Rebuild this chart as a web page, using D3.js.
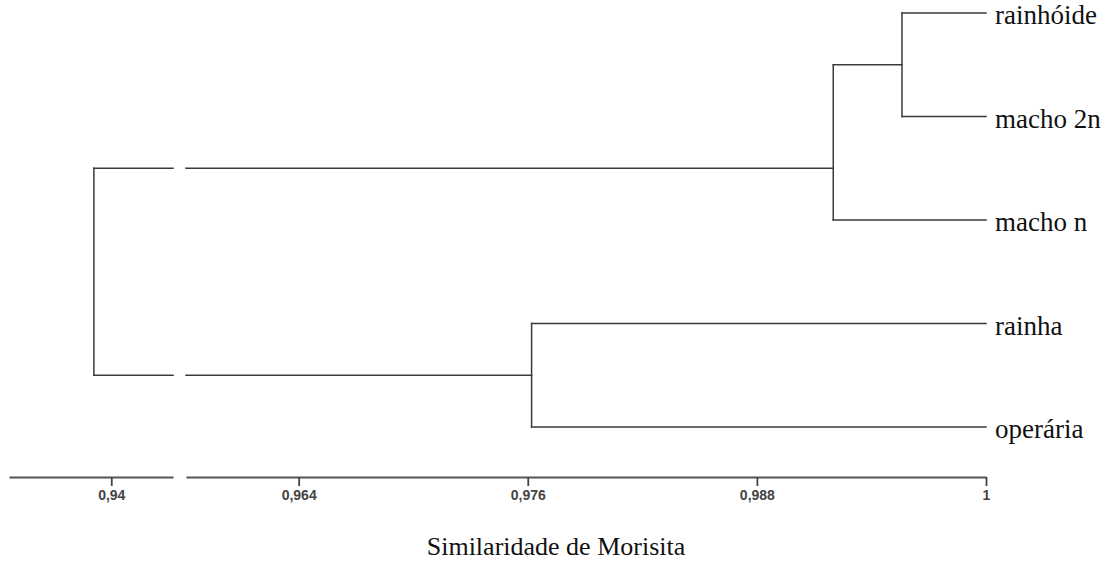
<!DOCTYPE html>
<html>
<head>
<meta charset="utf-8">
<script src="https://cdn.jsdelivr.net/npm/d3@7"></script>
<style>
  body { margin: 0; background: #fff; }
  svg { display: block; }
  .serif { font-family: 'Liberation Serif', 'Times New Roman', Times, 'DejaVu Serif', serif; }
  .sans { font-family: 'Liberation Sans', Arial, Helvetica, sans-serif; }
</style>
</head>
<body>
<script>
// leaves, top to bottom
let leaves = ['rainhóide', 'macho 2n', 'macho n', 'rainha', 'operária'];

// joins: [left, right] and the similarity at which they join
let joinNames = ['A', 'B', 'C', 'root'];
let joinPairs = [['rainhóide', 'macho 2n'], ['A', 'macho n'], ['rainha', 'operária'], ['B', 'C']];
let joinSimilarity = [0.9956, 0.9920, 0.9762, 0.9391];

let leftTicks = [0.94];
let rightTicks = [0.964, 0.976, 0.988, 1];

let width = 1120;
let height = 563;

// broken axis: two linear pieces
let xLeft = d3.scaleLinear().domain([0.9347, 0.9432]).range([9, 173]);
let xRight = d3.scaleLinear().domain([0.9581, 1]).range([186, 986]);
let x = v => v < 0.95 ? xLeft(v) : xRight(v);

let y = d3.scaleLinear().domain([0, leaves.length - 1]).range([13, 427]);
let axisY = 477;

let fmt = d3.formatLocale({decimal: ',', thousands: '.', grouping: [3], currency: ['', '']}).format('.3~f');

// build the tree
let byName = {};
leaves.forEach((name, i) => byName[name] = {name: name, sim: 1, row: i});
joinNames.forEach((name, i) => {
    byName[name] = {name: name, sim: joinSimilarity[i], children: joinPairs[i].map(c => byName[c])};
});
let root = d3.hierarchy(byName.root);

// node position: between the last leaf of the first child and the first leaf of the second
root.eachAfter(d => {
    if (!d.children) { d.row = d.data.row; return; }
    let a = d.children[0].leaves(), b = d.children[1].leaves();
    d.row = (a[a.length - 1].data.row + b[0].data.row) / 2;
});

let svg = d3.select('body')
    .append('svg')
    .attr('width', width)
    .attr('height', height);

let segs = [];
root.each(d => {
    if (!d.children) return;
    let px = x(d.data.sim);
    segs.push([px, y(d.children[0].row), px, y(d.children[1].row)]);
    d.children.forEach(c => {
        let cx = x(c.data.sim), cy = y(c.row);
        if (d.data.sim < 0.95 && c.data.sim >= 0.95) {
            segs.push([px, cy, xLeft.range()[1], cy]);
            segs.push([xRight.range()[0], cy, cx, cy]);
        } else {
            segs.push([px, cy, cx, cy]);
        }
    });
});

svg.append('g')
    .selectAll('line')
    .data(segs)
  .enter().append('line')
    .attr('x1', d => d[0]).attr('y1', d => d[1])
    .attr('x2', d => d[2]).attr('y2', d => d[3])
    .attr('stroke', '#3a3a3a')
    .attr('stroke-width', 1.5)
    .attr('stroke-linecap', 'square');

svg.append('g')
    .selectAll('text')
    .data(root.leaves())
  .enter().append('text')
    .attr('class', 'serif')
    .attr('x', x(1) + 9)
    .attr('y', d => y(d.row) + 11)
    .style('font-size', '27px')
    .attr('fill', '#111')
    .text(d => d.data.name);

// axes
[[xLeft, leftTicks], [xRight, rightTicks]].forEach(([sc, ticks]) => {
    let g = svg.append('g')
        .attr('transform', `translate(0,${axisY})`)
        .call(d3.axisBottom(sc).tickValues(ticks).tickFormat(fmt).tickSize(9).tickSizeOuter(0).tickPadding(4));
    g.attr('font-family', null).attr('font-size', null);
    g.select('.domain').attr('stroke', '#555').attr('stroke-width', 2.2);
    g.selectAll('.tick line').attr('stroke', '#444').attr('stroke-width', 1.8);
    g.selectAll('.tick text')
        .attr('class', 'sans')
        .style('font-size', '14px')
        .style('font-weight', 'bold')
        .attr('fill', '#444');
});

svg.append('text')
    .attr('class', 'serif')
    .attr('x', 556)
    .attr('y', 555)
    .attr('text-anchor', 'middle')
    .style('font-size', '26px')
    .attr('fill', '#111')
    .text('Similaridade de Morisita');
</script>
</body>
</html>
